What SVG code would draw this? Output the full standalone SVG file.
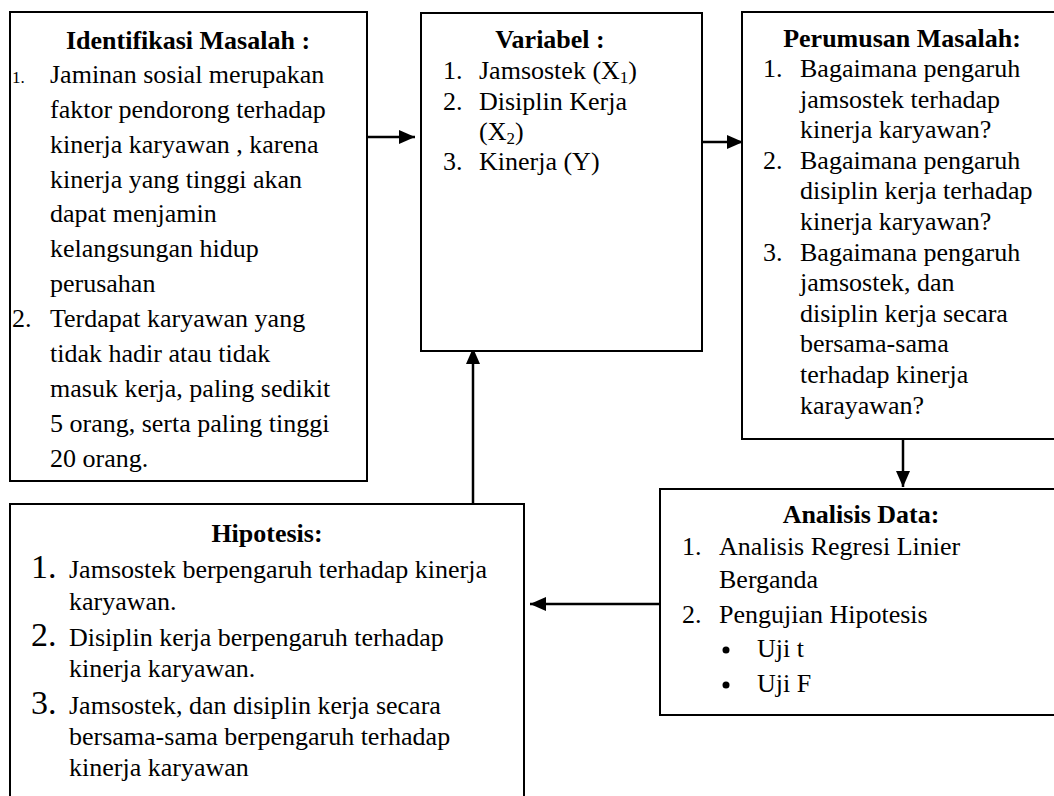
<svg xmlns="http://www.w3.org/2000/svg" width="1054" height="796" viewBox="0 0 1054 796">
<style>
.box{fill:#fff;stroke:#000;stroke-width:2}
text{font-family:"Liberation Serif","Times New Roman",serif;font-size:26px;fill:#000}
.h{font-weight:bold;text-anchor:middle}
.sm{font-size:17px}
.big{font-size:34px}
.sub{font-size:17px}
.ln{stroke:#000;stroke-width:2.5;fill:none}
</style>
<defs>
<marker id="ah" markerUnits="userSpaceOnUse" markerWidth="16" markerHeight="14" viewBox="0 0 16 14" refX="16" refY="7" orient="auto">
<path d="M0,0 L16,7 L0,14 Z" fill="#000"/>
</marker>
</defs>
<g id="connectors">
<line class="ln" x1="367" y1="137" x2="415" y2="137" marker-end="url(#ah)"/>
<line class="ln" x1="702" y1="142" x2="743" y2="142" marker-end="url(#ah)"/>
<line class="ln" x1="903" y1="439" x2="903" y2="487" marker-end="url(#ah)"/>
<line class="ln" x1="660" y1="604" x2="530" y2="604" marker-end="url(#ah)"/>
<line class="ln" x1="473" y1="504" x2="473" y2="348" marker-end="url(#ah)"/>
</g>
<g id="identifikasi">
<rect class="box" x="10" y="12" width="357" height="469"/>
<text class="h" x="188" y="49">Identifikasi Masalah :</text>
<text class="sm" x="12" y="83">1.</text>
<text x="50" y="83">Jaminan sosial merupakan</text>
<text x="50" y="118">faktor pendorong terhadap</text>
<text x="50" y="153">kinerja karyawan , karena</text>
<text x="50" y="188">kinerja yang tinggi akan</text>
<text x="50" y="222">dapat menjamin</text>
<text x="50" y="257">kelangsungan hidup</text>
<text x="50" y="292">perusahan</text>
<text x="12" y="327">2.</text>
<text x="50" y="327">Terdapat karyawan yang</text>
<text x="50" y="362">tidak hadir atau tidak</text>
<text x="50" y="397">masuk kerja, paling sedikit</text>
<text x="50" y="432">5 orang, serta paling tinggi</text>
<text x="50" y="467">20 orang.</text>
</g>
<g id="variabel">
<rect class="box" x="421" y="13" width="281" height="338"/>
<text class="h" x="550" y="48">Variabel :</text>
<text x="443" y="79">1.</text>
<text x="479" y="79">Jamsostek (X<tspan class="sub" dy="4">1</tspan><tspan dy="-4">)</tspan></text>
<text x="443" y="110">2.</text>
<text x="479" y="110">Disiplin Kerja</text>
<text x="479" y="140">(X<tspan class="sub" dy="4">2</tspan><tspan dy="-4">)</tspan></text>
<text x="443" y="170">3.</text>
<text x="479" y="170">Kinerja (Y)</text>
</g>
<g id="perumusan">
<rect class="box" x="742" y="12" width="320" height="427"/>
<text class="h" x="902" y="47">Perumusan Masalah:</text>
<text x="763" y="77">1.</text>
<text x="800" y="77">Bagaimana pengaruh</text>
<text x="800" y="108">jamsostek terhadap</text>
<text x="800" y="138">kinerja karyawan?</text>
<text x="763" y="169">2.</text>
<text x="800" y="169">Bagaimana pengaruh</text>
<text x="800" y="199">disiplin kerja terhadap</text>
<text x="800" y="230">kinerja karyawan?</text>
<text x="763" y="261">3.</text>
<text x="800" y="261">Bagaimana pengaruh</text>
<text x="800" y="291">jamsostek, dan</text>
<text x="800" y="322">disiplin kerja secara</text>
<text x="800" y="352">bersama-sama</text>
<text x="800" y="383">terhadap kinerja</text>
<text x="800" y="414">karayawan?</text>
</g>
<g id="analisis">
<rect class="box" x="660" y="489" width="402" height="226"/>
<text class="h" x="861" y="523">Analisis Data:</text>
<text x="682" y="555">1.</text>
<text x="719" y="555">Analisis Regresi Linier</text>
<text x="719" y="588">Berganda</text>
<text x="682" y="623">2.</text>
<text x="719" y="623">Pengujian Hipotesis</text>
<circle cx="726" cy="650" r="3.5" fill="#000"/>
<text x="757" y="657">Uji t</text>
<circle cx="726" cy="685" r="3.5" fill="#000"/>
<text x="757" y="692">Uji F</text>
</g>
<g id="hipotesis">
<rect class="box" x="10" y="504" width="514" height="300"/>
<text class="h" x="267" y="542">Hipotesis:</text>
<text class="big" x="31" y="578">1.</text>
<text x="69" y="578">Jamsostek berpengaruh terhadap kinerja</text>
<text x="69" y="610">karyawan.</text>
<text class="big" x="31" y="646">2.</text>
<text x="69" y="646">Disiplin kerja berpengaruh terhadap</text>
<text x="69" y="677">kinerja karyawan.</text>
<text class="big" x="31" y="714">3.</text>
<text x="69" y="714">Jamsostek, dan disiplin kerja secara</text>
<text x="69" y="745">bersama-sama berpengaruh terhadap</text>
<text x="69" y="776">kinerja karyawan</text>
</g>
</svg>
